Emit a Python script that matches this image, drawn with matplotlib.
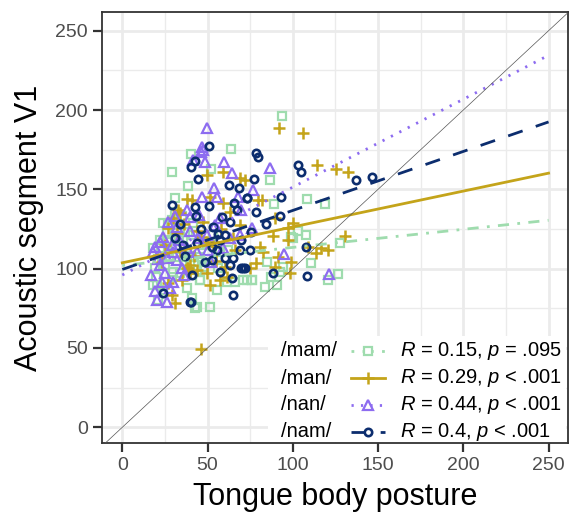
import matplotlib
matplotlib.use("Agg")
import matplotlib.pyplot as plt
from matplotlib.lines import Line2D
from matplotlib.patches import Rectangle
import numpy as np

plt.rcParams['font.family'] = ['Liberation Sans', 'DejaVu Sans']
plt.rcParams['mathtext.fontset'] = 'custom'
plt.rcParams['mathtext.rm'] = 'Liberation Sans'
plt.rcParams['mathtext.it'] = 'Liberation Sans:italic'

groups = ["/mam/", "/man/", "/nan/", "/nam/"]
stats = [r"$R$ = 0.15, $p$ = .095", r"$R$ = 0.29, $p$ < .001",
         r"$R$ = 0.44, $p$ < .001", r"$R$ = 0.4, $p$ < .001"]
colors = ["#9fdcae", "#c4a41a", "#8d6cf0", "#0c2d6e"]

mam_x = [93.7, 28.9, 40.1, 63.7, 51.8, 38.5, 30.9, 86.9, 89.0, 108.6, 118.6, 99.2, 103.1, 107.6,
         127.5, 110.5, 126.5, 120.7, 94.3, 84.6, 83.6, 90.5, 87.5, 72.9, 75.8, 92.4, 100.2,
         19.2, 18.2, 21.1, 24.0, 40.7, 42.6, 51.4, 55.3, 45.5, 66.0, 26.0, 31.9, 33.8, 31.9,
         37.7, 39.7, 25.0, 28.9, 27.0, 46.5, 41.6, 49.4, 35.7, 61.2, 56.2,
         18.2, 20.2, 24.0, 27.0, 32.8, 28.9, 38.7, 37.7, 45.5, 43.6, 70.9, 75.8, 45.5, 47.5,
         51.4, 57.2, 41.6, 22.0, 30.0, 35.0, 23.0, 44.0,
         20.0, 26.0, 33.0, 36.0, 29.0, 34.0, 40.0, 24.0, 31.0, 48.0, 53.0, 21.0, 38.0, 62.0]
mam_y = [196.3, 160.8, 172.3, 175.3, 162.7, 152.3, 144.4, 155.9, 140.6, 143.9, 140.6, 120.2, 124.0, 121.2,
         116.0, 103.4, 96.5, 92.9, 101.3, 104.4, 88.7, 89.7, 95.0, 92.9, 92.9, 98.1, 119.2,
         100.3, 89.7, 80.3, 84.5, 81.3, 75.0, 76.0, 86.6, 92.9, 91.8, 123.3, 125.5, 113.9, 107.6,
         110.7, 102.3, 102.3, 95.0, 110.7, 104.4, 121.2, 116.0, 118.1, 91.8, 100.3,
         112.9, 89.7, 86.6, 127.6, 127.6, 130.7, 123.3, 107.6, 92.9, 76.0, 92.9, 92.9, 107.6, 114.9,
         116.0, 110.7, 128.6, 118.0, 98.0, 133.0, 108.0, 99.0,
         95.0, 117.0, 120.0, 104.0, 113.0, 97.0, 108.0, 129.0, 136.0, 101.0, 121.0, 106.0, 88.0, 112.0]

man_x = [92.0, 106.0, 114.2, 125.2, 132.4, 130.5, 100.2, 89.5, 97.3, 88.5, 97.3, 109.0, 113.9, 120.7,
         116.8, 79.7, 81.7, 71.9, 80.7, 82.6, 91.4, 89.5, 99.2, 98.2, 78.7, 74.8, 46.2,
         49.4, 59.2, 69.0, 37.7, 40.7, 51.4, 32.8, 33.8, 59.2, 63.1, 27.0, 31.9, 39.7, 37.7,
         27.0, 28.9, 30.9, 49.4, 51.4, 57.2, 61.2, 47.5, 49.4, 69.0, 39.7, 38.7, 43.6, 65.0,
         60.2, 34.0, 44.0, 55.0, 36.0, 25.0,
         30.0, 42.0, 53.0, 35.0, 46.0, 58.0, 23.0, 66.0]
man_y = [188.5, 185.4, 165.4, 162.7, 161.2, 120.6, 128.6, 131.8, 125.5, 120.6, 118.1, 113.9, 109.7, 111.8,
         112.9, 143.3, 143.3, 155.9, 113.9, 110.7, 107.6, 101.3, 104.4, 97.1, 103.4, 100.3, 49.4,
         159.2, 161.2, 157.0, 143.8, 143.3, 145.4, 137.0, 135.0, 141.2, 135.9, 125.5, 122.3, 97.1, 100.3,
         90.8, 83.4, 78.2, 97.1, 89.7, 92.9, 95.0, 129.6, 117.0, 127.6, 102.3, 100.3, 99.2, 119.2,
         101.3, 111.0, 124.0, 105.0, 128.0, 115.0,
         132.0, 108.0, 114.0, 93.0, 120.0, 125.0, 104.0, 112.0]

nan_x = [49.4, 46.5, 47.5, 45.9, 48.4, 41.6, 59.7, 64.1, 53.7, 46.5, 55.3, 68.0, 30.9, 37.7,
         86.9, 76.4, 69.9, 75.8, 94.9, 121.3, 19.2, 18.2, 22.1, 25.0, 23.1, 20.2, 26.0, 29.9,
         28.9, 31.9, 34.8, 49.4, 44.5, 54.3, 59.2, 43.6, 29.9, 27.0, 39.7, 57.2, 63.1, 69.0,
         19.2, 24.0, 33.0, 36.0, 52.0, 40.0, 21.0,
         26.0, 32.0, 38.0, 22.0, 45.0, 17.0, 50.0, 28.0]
nan_y = [188.5, 176.9, 174.8, 173.8, 167.1, 168.5, 167.1, 160.2, 151.1, 145.0, 145.0, 145.0, 133.2, 137.0,
         163.4, 149.6, 137.0, 125.5, 109.3, 96.5, 113.9, 110.7, 102.3, 97.1, 91.8, 80.3, 79.2, 110.7,
         114.9, 105.5, 100.3, 121.2, 119.2, 127.6, 112.9, 110.7, 91.8, 129.6, 132.8, 131.8, 119.2, 121.2,
         85.8, 120.0, 118.0, 96.0, 104.0, 124.0, 106.0,
         107.0, 126.0, 113.0, 117.0, 134.0, 96.0, 112.0, 88.0]

nam_x = [50.8, 42.6, 40.1, 44.5, 62.7, 68.5, 73.2, 28.9, 42.6, 51.0, 65.4, 43.2, 78.7, 79.7,
         103.1, 105.1, 137.3, 146.7, 77.2, 92.8, 73.2, 78.3, 92.4, 84.2, 75.2, 69.9, 74.8, 108.0,
         70.9, 88.5, 108.4, 40.1, 24.0, 30.9, 35.7, 52.4, 57.2, 52.4, 57.2, 63.1, 64.1, 40.7,
         39.7, 60.2, 65.0, 69.9, 55.3, 69.0, 58.2, 63.1, 48.4, 65.0, 71.9, 46.0, 37.0, 56.0,
         34.0, 60.0, 44.0, 53.0, 67.0]
nam_y = [177.4, 167.9, 163.9, 156.4, 152.8, 150.7, 144.4, 140.2, 139.1, 139.8, 141.2, 133.2, 172.8, 170.6,
         165.4, 161.2, 155.9, 158.0, 156.4, 145.0, 144.4, 135.9, 133.2, 128.0, 123.3, 118.1, 111.8, 113.5,
         100.3, 97.1, 95.6, 79.2, 84.9, 119.2, 114.9, 113.9, 118.1, 105.5, 98.1, 102.3, 93.9, 96.0,
         79.2, 106.6, 106.6, 100.3, 111.8, 111.8, 132.8, 129.6, 104.4, 83.4, 100.3, 125.0, 108.0, 122.0,
         128.0, 121.0, 116.0, 126.0, 137.0]

fit_intercepts = [102.0, 103.7, 96.0, 99.5]
fit_slopes = [0.114, 0.226, 0.554, 0.372]
fit_x = [0, 250]

xs = [mam_x, man_x, nan_x, nam_x]
ys = [mam_y, man_y, nan_y, nam_y]
markers = ['s', '+', '^', 'o']
msizes = [5.3, 8.5, 6.8, 5.3]
mews = [1.6, 1.8, 1.6, 1.9]
lstyles = [(0, (1, 3, 4, 3)), '-', (0, (0.8, 2.6)), (0, (5.5, 5))]

W, H = 569, 522
fig = plt.figure(figsize=(W / 100, H / 100), dpi=100)
ax = fig.add_axes([102 / W, 1 - 443 / H, (568 - 102) / W, (443 - 12) / H])
ax.set_xlim(-11.9, 261.4)
ax.set_ylim(-9.9, 261.8)

ax.set_xticks([0, 50, 100, 150, 200, 250])
ax.set_yticks([0, 50, 100, 150, 200, 250])
ax.set_xticks([25, 75, 125, 175, 225], minor=True)
ax.set_yticks([25, 75, 125, 175, 225], minor=True)
ax.grid(True, which='major', color='#ebebeb', lw=2.0, zorder=0)
ax.grid(True, which='minor', color='#ebebeb', lw=1.0, zorder=0)
ax.set_axisbelow(True)
ax.tick_params(which='major', length=6.5, width=1.6, color='#333333', labelsize=14,
               labelcolor='#4d4d4d', pad=3.5)
ax.tick_params(which='minor', length=0)
for s in ax.spines.values():
    s.set_color('#333333')
    s.set_linewidth(1.3)

for i in range(4):
    ax.plot(xs[i], ys[i], linestyle='none', marker=markers[i], ms=msizes[i],
            mfc='none', mec=colors[i], mew=mews[i], zorder=3 + i)

for i in range(4):
    fx = np.array(fit_x, dtype=float)
    ax.plot(fx, fit_intercepts[i] + fit_slopes[i] * fx, color=colors[i], lw=2.0,
            linestyle=lstyles[i], zorder=8, dash_capstyle='butt')

ax.axline((0, 0), slope=1, color='#555555', lw=0.5, zorder=9)

ax.set_xlabel("Tongue body posture", fontsize=22, labelpad=6)
ax.set_ylabel("Acoustic segment V1", fontsize=22, labelpad=8)

# legend (inside lower right)
tf = fig.transFigure
fig.patches.append(Rectangle((268 / W, 1 - 442 / H), (566 - 268) / W, (442 - 336) / H,
                             transform=tf, facecolor='white', edgecolor='none', zorder=10))
rows_y = [350.7, 378.3, 405.0, 431.7]
for i in range(4):
    yy = 1 - rows_y[i] / H
    fig.text(281 / W, yy, groups[i], fontsize=14.5, va='center', ha='left', zorder=11)
    fig.add_artist(Line2D([351 / W, 385 / W], [yy, yy], transform=tf, color=colors[i],
                          lw=2.0, linestyle=lstyles[i], zorder=11))
    fig.add_artist(Line2D([368 / W], [yy], transform=tf, marker=markers[i], ms=msizes[i],
                          mfc='white' if markers[i] != '+' else 'none', mec=colors[i], mew=mews[i],
                          linestyle='none', zorder=12))
    fig.text(400 / W, yy, stats[i], fontsize=14.5, va='center', ha='left', zorder=11)

fig.savefig("out.png", dpi=100)
